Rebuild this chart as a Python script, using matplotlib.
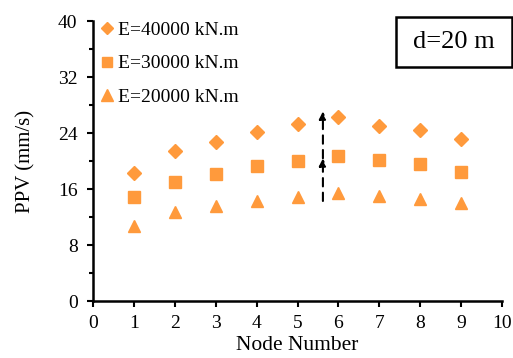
import matplotlib
matplotlib.use("Agg")
import matplotlib.pyplot as plt
from matplotlib.ticker import MultipleLocator
from matplotlib.patches import Rectangle

plt.rcParams['font.family'] = ['Liberation Serif', 'DejaVu Serif']

nodes = [1, 2, 3, 4, 5, 6, 7, 8, 9]
ppv_e40000 = [18.3, 21.4, 22.8, 24.1, 25.3, 26.3, 25.0, 24.4, 23.2]
ppv_e30000 = [14.8, 17.0, 18.2, 19.3, 20.0, 20.7, 20.1, 19.6, 18.5]
ppv_e20000 = [10.7, 12.7, 13.6, 14.3, 14.9, 15.4, 15.0, 14.6, 14.0]
labels = ["E=40000 kN.m", "E=30000 kN.m", "E=20000 kN.m"]

# dashed arrows (x, y_start, y_mid, y_end)
arrow_x = 5.62
arrow_y = [14.3, 20.4, 27.1]

orange = '#FF9A3C'

fig = plt.figure(figsize=(5.13, 3.58), dpi=100)
ax = fig.add_axes([0.181, 0.159, 0.798, 0.782])

ax.plot(nodes, ppv_e40000, 'D', color=orange, markersize=7, label=labels[0])
ax.plot(nodes, ppv_e30000, 's', color=orange, markersize=8, label=labels[1])
ax.plot(nodes, ppv_e20000, '^', color=orange, markersize=9, label=labels[2])

for y0, y1 in [(arrow_y[0], arrow_y[1]), (arrow_y[1], arrow_y[2])]:
    ax.annotate("", xy=(arrow_x, y1), xytext=(arrow_x, y0),
                arrowprops=dict(arrowstyle='-|>', color='black', lw=1.5,
                                linestyle=(0, (4, 3)), mutation_scale=11,
                                shrinkA=0, shrinkB=0))

ax.set_xlim(0, 10)
ax.set_ylim(0, 40)
ax.xaxis.set_major_locator(MultipleLocator(1))
ax.yaxis.set_major_locator(MultipleLocator(8))
ax.yaxis.set_minor_locator(MultipleLocator(4))
ax.tick_params(axis='both', which='major', labelsize=14, direction='out',
               length=4, width=1.5)
ax.tick_params(axis='x', which='major', pad=6)
ax.tick_params(axis='y', which='major', pad=7)
ax.tick_params(axis='y', which='minor', direction='out', length=3, width=1.5)

for side in ['top', 'right']:
    ax.spines[side].set_visible(False)
for side in ['left', 'bottom']:
    ax.spines[side].set_linewidth(1.8)

ax.set_xlabel("Node Number", fontsize=15.5, labelpad=3)
ax.set_ylabel("PPV (mm/s)", fontsize=15, labelpad=16)

leg = ax.legend(loc='upper left', bbox_to_anchor=(-0.018, 1.04), frameon=False,
                fontsize=14, handletextpad=0.05, handlelength=1.0,
                labelspacing=0.8, borderaxespad=0.2, markerscale=0.9)

# text box at top right
fig.add_artist(Rectangle((0.772, 0.813), 0.226, 0.140, transform=fig.transFigure,
                         facecolor='white', edgecolor='black', linewidth=1.8))
fig.text(0.885, 0.883, "d=20 m", fontsize=19, ha='center', va='center')

fig.savefig("out.png", dpi=100)
